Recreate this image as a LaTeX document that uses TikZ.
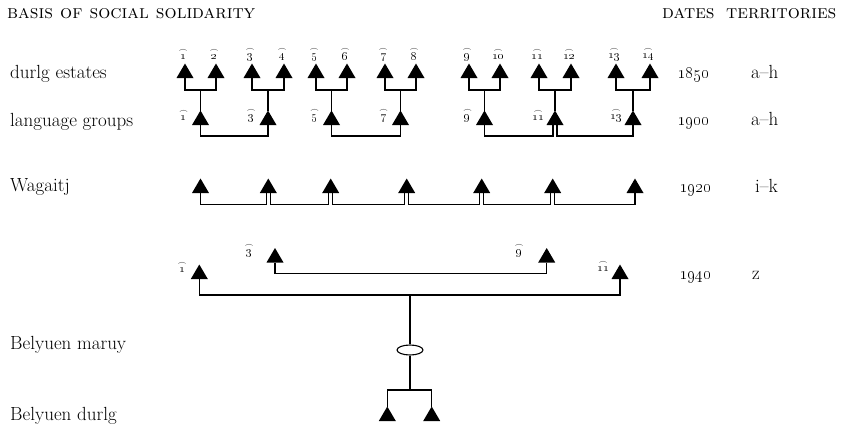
\documentclass[tikz,border=0pt]{standalone}
\usetikzlibrary{shapes.geometric}
\tikzset{
  conn/.style={line width=1.1pt},
  lab/.style={anchor=base west, inner sep=0pt},
  datelab/.style={anchor=base west, inner sep=0pt, font=\fontsize{17.5}{20}\selectfont},
  num/.style={inner sep=0pt, font=\fontsize{12}{14}\selectfont},
}
\newcommand\tri[3]{%
  \fill (#2-8.5,#3) -- (#2+8.5,#3) -- (#2,#3-14.5) -- cycle;
  \coordinate (#1) at (#2,#3);
  \coordinate (#1t) at (#2,#3-14.5);}
\newcommand\hn[1]{$\stackrel{\frown}{\mbox{\oldstylenums{#1}}}$}
\begin{document}
\begin{tikzpicture}[x=1pt,y=-1pt,font=\fontsize{19}{22}\selectfont]
\useasboundingbox (0,0) rectangle (847,429);
% headers
\node[lab] (h1) at (7,18) {\textsc{basis of social solidarity}};
\node[lab] (h2) at (662,18) {\textsc{dates}};
\node[lab] (h3) at (726,18) {\textsc{territories}};
% left labels
\node[lab] (l1) at (10,78) {durlg estates};
\node[lab] (l2) at (10,126) {language groups};
\node[lab] (l3) at (10,191) {Wagaitj};
\node[lab] (l4) at (10,349) {Belyuen maruy};
\node[lab] (l5) at (10,420) {Belyuen durlg};
% dates
\node[datelab] (d1850) at (677,78) {\oldstylenums{1850}};
\node[datelab] (d1900) at (677,125) {\oldstylenums{1900}};
\node[datelab] (d1920) at (679,192) {\oldstylenums{1920}};
\node[datelab] (d1940) at (679,279) {\oldstylenums{1940}};
% territories
\node[lab] (t1) at (751,78) {a--h};
\node[lab] (t2) at (751,125) {a--h};
\node[lab] (t3) at (755,192) {i--k};
\node[lab] (t4) at (752,279) {z};
% row 1850
\foreach \n/\x in {1/185,2/216,3/252,4/284,5/316,6/347,7/385,8/416,9/469,10/500,11/539,12/571,13/616,14/650}{
  \tri{a\n}{\x}{78}
  \node[num] (na\n) at (\x-2,54) {\hn{\n}};
}
% row 1900
\foreach \n/\x in {1/200.5,3/268,5/331.5,7/400.5,9/484.5,11/555,13/633}{
  \tri{b\n}{\x}{125}
  \node[num] (nb\n) at (\x-17,115) {\hn{\n}};
}
% brackets 1850 -> 1900
\foreach \p/\q/\r in {1/2/1,3/4/3,5/6/5,7/8/7,9/10/9,11/12/11,13/14/13}{
  \draw[conn] (a\p) -- ++(0,12) -| (a\q);
  \draw[conn] (b\r t) -- ++(0,-20);
}
% brackets 1900
\draw[conn] (b1) -- ++(0,11) -| (b3);
\draw[conn] (b5) -- ++(0,11) -| (b7);
\draw[conn] (b9) -- ++(0,11) -| ([xshift=-2pt]b11);
\draw[conn] ([xshift=2pt]b11) -- ++(0,11) -| (b13);
% row 1920
\foreach \n/\x in {1/200.5,2/268.3,3/330.7,4/406.7,5/481.7,6/552.7,7/635}{
  \tri{w\n}{\x}{193}
}
\draw[conn] (w1) -- ++(0,11.5) -| ([xshift=-2pt]w2);
\foreach \p/\q in {2/3,3/4,4/5,5/6}{
  \draw[conn] ([xshift=2pt]w\p) -- ++(0,11.5) -| ([xshift=-2pt]w\q);
}
\draw[conn] ([xshift=2pt]w6) -- ++(0,11.5) -| (w7);
% row 1940
\tri{c1}{199.3}{279}
\tri{c3}{275}{262.5}
\tri{c9}{546.7}{262.5}
\tri{c11}{620}{279}
\node[num] (nc1) at (182,267) {\hn{1}};
\node[num] (nc3) at (249,250) {\hn{3}};
\node[num] (nc9) at (519,250) {\hn{9}};
\node[num] (nc11) at (603,266) {\hn{11}};
\draw[conn] (c3) -- ++(0,11) -| (c9);
\draw[conn] (c1) -- ++(0,16) -| (c11);
\coordinate (j) at (410,295);
\node[draw, line width=1.1pt, ellipse, minimum width=26pt, minimum height=10pt, inner sep=0pt] (e) at (410,350) {};
\draw[conn] (j) -- (e);
\coordinate (k) at (410,390);
\draw[conn] (e) -- (k);
\tri{f1}{387.3}{421}
\tri{f2}{431.7}{421}
\draw[conn] (f1t) |- (k) -| (f2t);
\end{tikzpicture}
\end{document}
